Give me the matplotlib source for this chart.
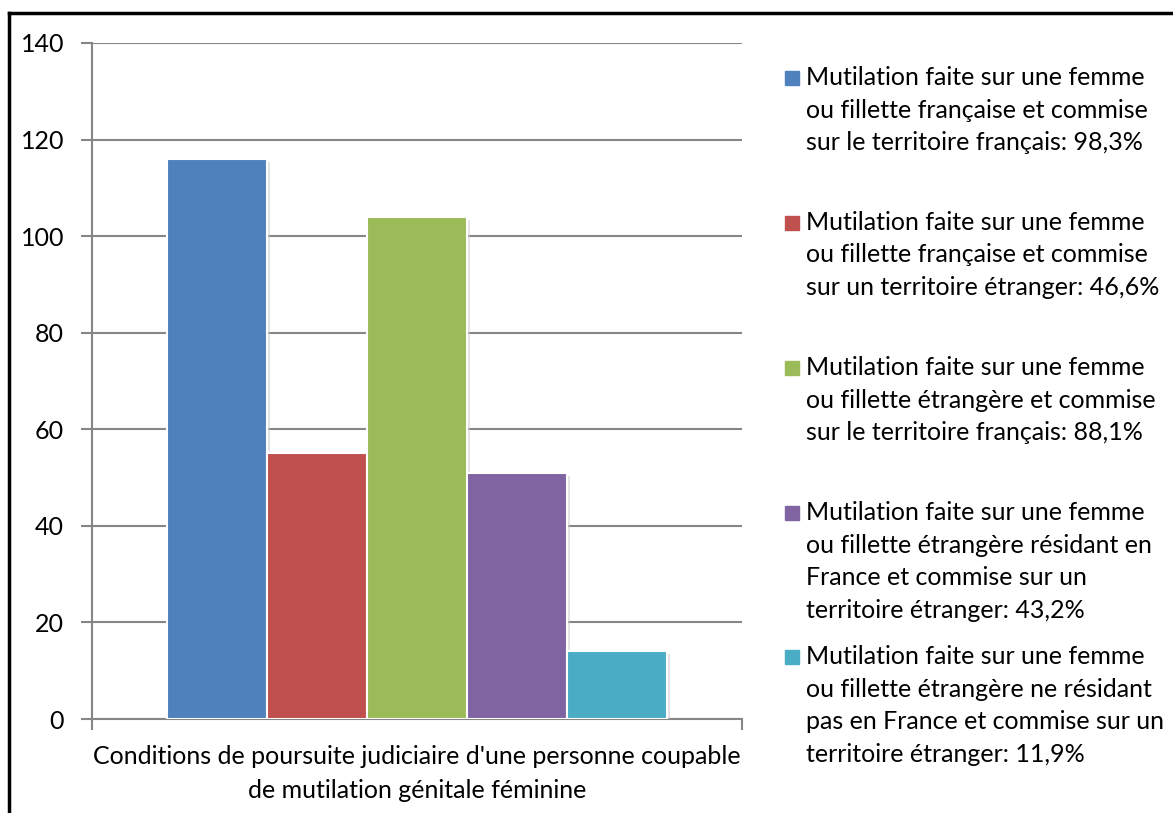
import matplotlib.pyplot as plt
import matplotlib.patheffects as pe
from matplotlib.patches import Rectangle
from matplotlib.lines import Line2D

# data
values = [116, 55, 104, 51, 14]
colors = ['#4F81BD', '#C0504D', '#9BBB59', '#8064A2', '#4BACC6']
labels = [
    "Mutilation faite sur une femme\nou fillette française et commise\nsur le territoire français: 98,3%",
    "Mutilation faite sur une femme\nou fillette française et commise\nsur un territoire étranger: 46,6%",
    "Mutilation faite sur une femme\nou fillette étrangère et commise\nsur le territoire français: 88,1%",
    "Mutilation faite sur une femme\nou fillette étrangère résidant en\nFrance et commise sur un\nterritoire étranger: 43,2%",
    "Mutilation faite sur une femme\nou fillette étrangère ne résidant\npas en France et commise sur un\nterritoire étranger: 11,9%",
]
category = "Conditions de poursuite judiciaire d'une personne coupable\nde mutilation génitale féminine"
yticks = [0, 20, 40, 60, 80, 100, 120, 140]

plt.rcParams['font.family'] = ['Lato', 'DejaVu Sans']
W, H = 1173, 813
fs = 18
fig = plt.figure(figsize=(W / 100, H / 100), dpi=100)
ax = fig.add_axes([92 / W, 1 - 719 / H, 650 / W, 676 / H])

grid_col = '#868686'
shadow = [pe.SimplePatchShadow(offset=(2, -2), shadow_rgbFace='#c8c8c8', alpha=0.5), pe.Normal()]
for i, (v, c) in enumerate(zip(values, colors)):
    ax.bar(i, v, width=1.0, color=c, edgecolor='white', linewidth=1.5,
           zorder=3, path_effects=shadow)

ax.set_xlim(-1.25, 5.25)
ax.set_ylim(0, 140)
ax.set_yticks(yticks)
ax.yaxis.grid(True, color=grid_col, linewidth=1.5, zorder=0)
ax.set_axisbelow(True)
for s in ['top', 'right']:
    ax.spines[s].set_visible(False)
for s in ['left', 'bottom']:
    ax.spines[s].set_color(grid_col)
    ax.spines[s].set_linewidth(1.5)
ax.tick_params(axis='y', length=8, width=1.5, color=grid_col, pad=12, labelsize=fs)
ax.set_xticks([2])
ax.set_xticklabels([category], fontsize=fs, linespacing=1.55)
ax.set_xticks([-1.25, 5.25], minor=True)
ax.tick_params(axis='x', which='major', length=0, pad=19)
ax.tick_params(axis='x', which='minor', length=8, width=1.5, color=grid_col)

# legend drawn entry by entry, as in the source
baselines = [85, 230, 375, 520, 664]
line_h = 32.5
for lab, c, y in zip(labels, colors, baselines):
    fig.patches.append(Rectangle((785 / W, 1 - y / H), 14 / W, 14 / H,
                                 transform=fig.transFigure, color=c))
    for k, line in enumerate(lab.split('\n')):
        fig.text(806 / W, 1 - (y + k * line_h) / H, line, fontsize=fs,
                 va='baseline', ha='left')

# frame of the chart area
fig.add_artist(Line2D([9 / W, 9 / W], [0, 1 - 13 / H], color='black', lw=2.5,
                      transform=fig.transFigure))
fig.add_artist(Line2D([9 / W, 1], [1 - 13 / H, 1 - 13 / H], color='black', lw=2.5,
                      transform=fig.transFigure))

fig.savefig('out.png', dpi=100)
